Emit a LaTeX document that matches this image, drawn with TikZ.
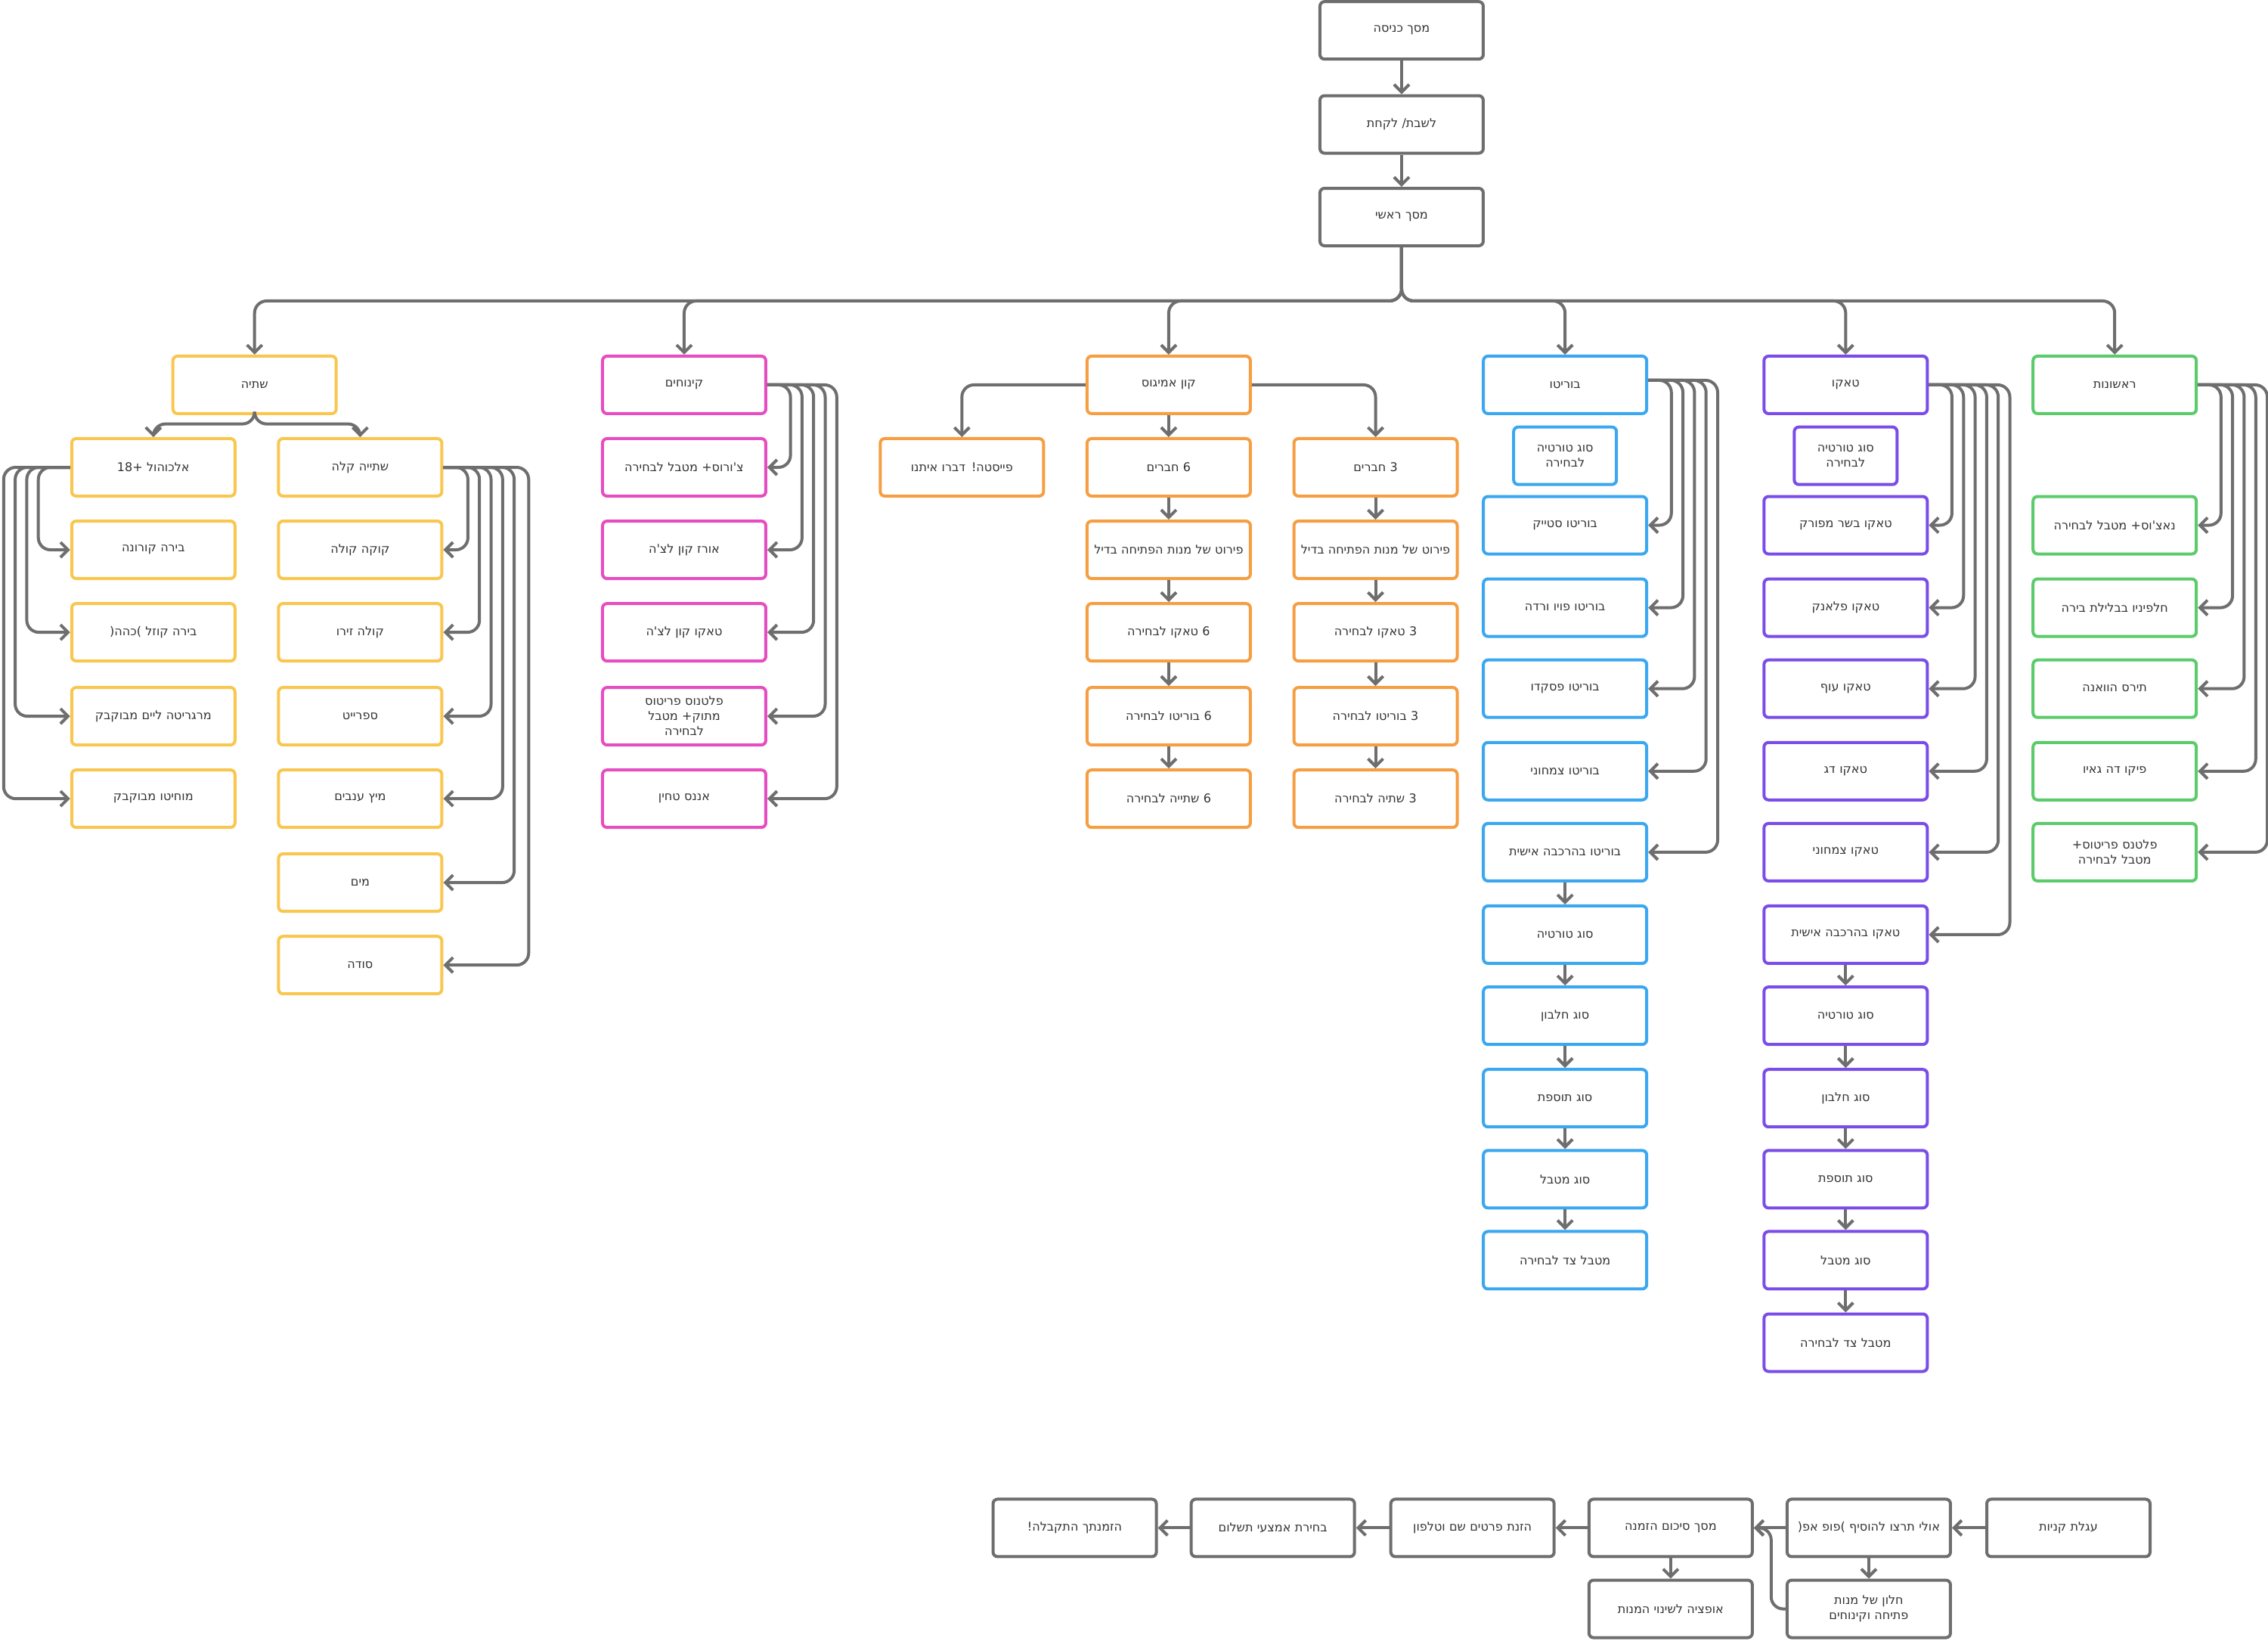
\documentclass[tikz,border=0pt]{standalone}
\usepackage{fontspec}
\setmainfont{DejaVu Sans}
\newfontfamily\hebfont[Script=Hebrew]{DejaVu Sans}
\usetikzlibrary{arrows.meta}
\TeXXeTstate=1
\newcommand{\heb}[1]{{\hebfont\beginR #1\endR}}
\definecolor{cy}{HTML}{F9C74F}
\definecolor{cp}{HTML}{E64DC0}
\definecolor{co}{HTML}{F59E42}
\definecolor{cb}{HTML}{3BA7F0}
\definecolor{cv}{HTML}{7B4DE8}
\definecolor{cg}{HTML}{5CCB6B}
\definecolor{cgr}{HTML}{6E6E6E}
\definecolor{ct}{HTML}{333333}
\tikzset{
 box/.style={draw=#1,line width=2pt,rounded corners=3pt,minimum width=108pt,minimum height=38pt,
   text width=100pt,align=center,inner sep=1pt,fill=white,text=ct,font=\fontsize{8}{10}\selectfont},
 sbox/.style={box=#1,minimum width=68pt,text width=64pt},
 conn/.style={draw=cgr,line width=2pt,rounded corners=8pt,-{Straight Barb[length=5pt,width=10pt,line width=2pt]}}
}
\begin{document}
\begin{tikzpicture}[x=0.9566pt,y=-0.9566pt]
\useasboundingbox (0,0) rectangle (1568,1134);
% top
\node[box=cgr] (a) at (969,21) {\heb{מסך כניסה}};
\node[box=cgr] (b) at (969,86) {\heb{לשבת/ לקחת}};
\node[box=cgr] (m) at (969,150) {\heb{מסך ראשי}};
\draw[conn] (a) -- (b); \draw[conn] (b) -- (m);
% level 1
\node[box=cy] (d) at (176,266) {\heb{שתיה}};
\node[box=cp] (k) at (473,266) {\heb{קינוחים}};
\node[box=co] (ka) at (808,266) {\heb{קון אמיגוס}};
\node[box=cb] (bu) at (1082,266) {\heb{בוריטו}};
\node[box=cv] (t) at (1276,266) {\heb{טאקו}};
\node[box=cg] (r) at (1462,266) {\heb{ראשונות}};
\foreach \n in {d,k,ka,bu,t,r}{\draw[conn] (m.south) -- (969,208) -| (\n.north);}
% drinks
\node[box=cy] (al) at (106,323) {18+ \heb{אלכוהול}};
\node[box=cy] (al1) at (106,380) {\heb{בירה קורונה}};
\node[box=cy] (al2) at (106,437) {\heb{בירה קוזל )כהה(}};
\node[box=cy] (al3) at (106,495) {\heb{מרגריטה ליים מבוקבק}};
\node[box=cy] (al4) at (106,552) {\heb{מוחיטו מבוקבק}};
\node[box=cy] (sk) at (249,323) {\heb{שתייה קלה}};
\node[box=cy] (sk1) at (249,380) {\heb{קוקה קולה}};
\node[box=cy] (sk2) at (249,437) {\heb{קולה זירו}};
\node[box=cy] (sk3) at (249,495) {\heb{ספרייט}};
\node[box=cy] (sk4) at (249,552) {\heb{מיץ ענבים}};
\node[box=cy] (sk5) at (249,610) {\heb{מים}};
\node[box=cy] (sk6) at (249,667) {\heb{סודה}};
\draw[conn] (d.south) -- (176,293) -| (al.north);
\draw[conn] (d.south) -- (176,293) -| (sk.north);
\foreach \i/\dx in {1/22,2/30,3/38,4/46}{\draw[conn] (al.west) -- ++(-\dx,0) |- (al\i.west);}
\foreach \i/\dx in {1/17,2/25,3/33,4/41,5/49,6/59}{\draw[conn] (sk.east) -- ++(\dx,0) |- (sk\i.east);}
% desserts
\node[box=cp] (k1) at (473,323) {\heb{צ'ורוס+ מטבל לבחירה}};
\node[box=cp] (k2) at (473,380) {\heb{אורז קון לצ'ה}};
\node[box=cp] (k3) at (473,437) {\heb{טאקו קון לצ'ה}};
\node[box=cp] (k4) at (473,495) {\heb{פלטנוס פריטוס מתוק+ מטבל}\\\heb{לבחירה}};
\node[box=cp] (k5) at (473,552) {\heb{אננס טחין}};
\foreach \i/\dx in {1/16,2/24,3/32,4/40,5/48}{\draw[conn] (k.east) -- ++(\dx,0) |- (k\i.east);}
% kon amigos
\node[box=co] (fi) at (665,323) {\heb{פייסטה! דברו איתנו}};
\node[box=co] (s0) at (808,323) {\heb{חברים}~6};
\node[box=co] (s1) at (808,380) {\heb{פירוט של מנות הפתיחה בדיל}};
\node[box=co] (s2) at (808,437) {\heb{טאקו לבחירה}~6};
\node[box=co] (s3) at (808,495) {\heb{בוריטו לבחירה}~6};
\node[box=co] (s4) at (808,552) {\heb{שתייה לבחירה}~6};
\node[box=co] (h0) at (951,323) {\heb{חברים}~3};
\node[box=co] (h1) at (951,380) {\heb{פירוט של מנות הפתיחה בדיל}};
\node[box=co] (h2) at (951,437) {\heb{טאקו לבחירה}~3};
\node[box=co] (h3) at (951,495) {\heb{בוריטו לבחירה}~3};
\node[box=co] (h4) at (951,552) {\heb{שתיה לבחירה}~3};
\draw[conn] (ka.west) -| (fi.north);
\draw[conn] (ka.east) -| (h0.north);
\draw[conn] (ka.south) -- (s0.north);
\foreach \p/\c in {0/1,1/2,2/3,3/4}{\draw[conn] (s\p.south) -- (s\c.north); \draw[conn] (h\p.south) -- (h\c.north);}
% burrito
\node[sbox=cb] (bus) at (1082,315) {\heb{סוג טורטיה לבחירה}};
\node[box=cb] (b1) at (1082,363) {\heb{בוריטו סטייק}};
\node[box=cb] (b2) at (1082,420) {\heb{בוריטו פויו ורדה}};
\node[box=cb] (b3) at (1082,476) {\heb{בוריטו פסקדו}};
\node[box=cb] (b4) at (1082,533) {\heb{בוריטו צמחוני}};
\node[box=cb] (b5) at (1082,589) {\heb{בוריטו בהרכבה אישית}};
\node[box=cb] (b6) at (1082,646) {\heb{סוג טורטיה}};
\node[box=cb] (b7) at (1082,702) {\heb{סוג חלבון}};
\node[box=cb] (b8) at (1082,759) {\heb{סוג תוספת}};
\node[box=cb] (b9) at (1082,815) {\heb{סוג מטבל}};
\node[box=cb] (b10) at (1082,871) {\heb{מטבל צד לבחירה}};
\foreach \i/\dx in {1/16,2/24,3/32,4/40,5/48}{\draw[conn] ([yshift=3pt]bu.east) -- ++(\dx,0) |- (b\i.east);}
\foreach \p/\c in {5/6,6/7,7/8,8/9,9/10}{\draw[conn] (b\p.south) -- (b\c.north);}
% taco
\node[sbox=cv] (ts) at (1276,315) {\heb{סוג טורטיה לבחירה}};
\node[box=cv] (t1) at (1276,363) {\heb{טאקו בשר מפורק}};
\node[box=cv] (t2) at (1276,420) {\heb{טאקו פלאנק}};
\node[box=cv] (t3) at (1276,476) {\heb{טאקו עוף}};
\node[box=cv] (t4) at (1276,533) {\heb{טאקו דג}};
\node[box=cv] (t5) at (1276,589) {\heb{טאקו צמחוני}};
\node[box=cv] (t6) at (1276,646) {\heb{טאקו בהרכבה אישית}};
\node[box=cv] (t7) at (1276,702) {\heb{סוג טורטיה}};
\node[box=cv] (t8) at (1276,759) {\heb{סוג חלבון}};
\node[box=cv] (t9) at (1276,815) {\heb{סוג תוספת}};
\node[box=cv] (t10) at (1276,871) {\heb{סוג מטבל}};
\node[box=cv] (t11) at (1276,928) {\heb{מטבל צד לבחירה}};
\foreach \i/\dx in {1/16,2/24,3/32,4/40,5/48,6/56}{\draw[conn] (t.east) -- ++(\dx,0) |- (t\i.east);}
\foreach \p/\c in {6/7,7/8,8/9,9/10,10/11}{\draw[conn] (t\p.south) -- (t\c.north);}
% rishonot
\node[box=cg] (r1) at (1462,363) {\heb{נאצ'וס+ מטבל לבחירה}};
\node[box=cg] (r2) at (1462,420) {\heb{חלפיניו בבלילת בירה}};
\node[box=cg] (r3) at (1462,476) {\heb{תירס הוואנה}};
\node[box=cg] (r4) at (1462,533) {\heb{פיקו דה גאיו}};
\node[box=cg] (r5) at (1462,589) {\heb{פלטנס פריטוס+ מטבל לבחירה}};
\foreach \i/\dx in {1/16,2/24,3/32,4/40,5/48}{\draw[conn] (r.east) -- ++(\dx,0) |- (r\i.east);}
% bottom
\node[box=cgr] (c1) at (1430,1056) {\heb{עגלת קניות}};
\node[box=cgr] (c2) at (1292,1056) {\heb{אולי תרצו להוסיף )פופ אפ(}};
\node[box=cgr] (c3) at (1155,1056) {\heb{מסך סיכום הזמנה}};
\node[box=cgr] (c4) at (1018,1056) {\heb{הזנת פרטים שם וטלפון}};
\node[box=cgr] (c5) at (880,1056) {\heb{בחירת אמצעי תשלום}};
\node[box=cgr] (c6) at (743,1056) {\heb{הזמנתך התקבלה!}};
\node[box=cgr] (w) at (1292,1112) {\heb{חלון של מנות פתיחה וקינוחים}};
\node[box=cgr] (o) at (1155,1112) {\heb{אופציה לשינוי המנות}};
\foreach \p/\c in {1/2,2/3,3/4,4/5,5/6}{\draw[conn] (c\p.west) -- (c\c.east);}
\draw[conn] (c2.south) -- (w.north);
\draw[conn] (c3.south) -- (o.north);
\draw[conn] (w.west) -- ++(-10,0) |- (c3.east);
\end{tikzpicture}
\end{document}
